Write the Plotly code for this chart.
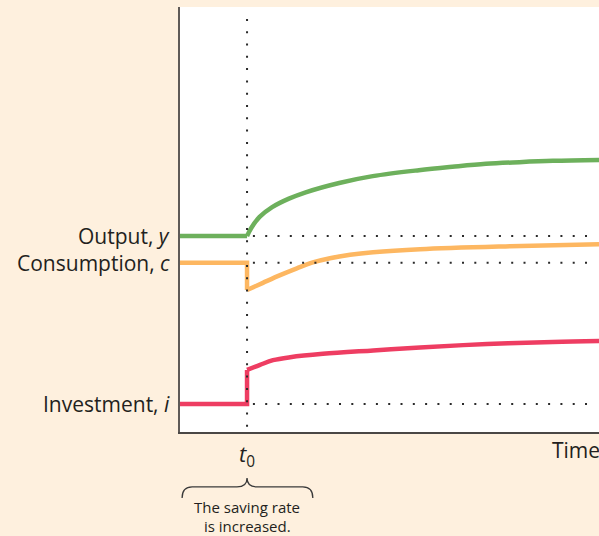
import plotly.graph_objects as go

# ---- data (time units 0..100, level units 0..100) ----
t0 = 16
output_t = [0, 16, 17, 19, 22, 26, 30, 38, 46, 57, 65, 73, 81, 89, 100]
output_v = [46.1, 46.1, 48.0, 50.6, 52.9, 54.9, 56.4, 58.6, 60.2, 61.6, 62.4, 63.1, 63.5, 63.8, 64.0]

cons_t = [0, 16, 16, 19.8, 23.9, 27.9, 31.7, 35.8, 40.6, 46.1, 57.3, 78.8, 100]
cons_v = [39.8, 39.8, 33.4, 35.1, 36.9, 38.5, 39.9, 40.9, 41.7, 42.3, 43.0, 43.7, 44.2]

inv_t = [0, 16, 16, 19.1, 22.2, 26.3, 34.1, 46.1, 57.3, 73.3, 89.0, 100]
inv_v = [6.6, 6.6, 14.6, 15.8, 16.9, 17.6, 18.4, 19.2, 19.9, 20.7, 21.2, 21.4]

series_names = ["Output, <i>y</i>", "Consumption, <i>c</i>", "Investment, <i>i</i>"]
baselines = [46.1, 39.8, 6.6]
colors = ["#6DB05C", "#FDB761", "#EE3D62"]
# index where the post-t0 smooth path begins in each series
split_idx = [1, 2, 2]

caption_lines = ["The saving rate", "is increased."]

dot_start, dot_end = 17.4, 98.0
vline_top = 97.2

FONT = "Open Sans"
TXT = "#231F20"

fig = go.Figure()
for tt, vv, c, k in zip([output_t, cons_t, inv_t], [output_v, cons_v, inv_v], colors, split_idx):
    fig.add_trace(go.Scatter(x=tt[:k + 1], y=vv[:k + 1], mode="lines",
                             line=dict(color=c, width=4.5), hoverinfo="skip"))
    fig.add_trace(go.Scatter(x=tt[k:], y=vv[k:], mode="lines",
                             line=dict(color=c, width=4.5, shape="spline", smoothing=1.0),
                             hoverinfo="skip"))

shapes = []
for b in baselines:
    shapes.append(dict(type="line", xref="x", yref="y", x0=dot_start, x1=dot_end, y0=b, y1=b,
                       line=dict(color="#2a2a2a", width=2, dash="2px,10.3px"), layer="above"))
shapes.append(dict(type="line", xref="x", yref="y", x0=t0, x1=t0, y0=vline_top, y1=0,
                   line=dict(color="#2a2a2a", width=2, dash="2px,10.3px"), layer="above"))

# brace under t0
bx0, bx1, r = 0.5, 31.7, 2.4
yend, ymid, ytip = -0.155, -0.129, -0.108
path = (f"M {bx0},{yend} Q {bx0},{ymid} {bx0+r},{ymid} L {t0-r},{ymid} "
        f"Q {t0},{ymid} {t0},{ytip} Q {t0},{ymid} {t0+r},{ymid} "
        f"L {bx1-r},{ymid} Q {bx1},{ymid} {bx1},{yend}")
shapes.append(dict(type="path", xref="x", yref="paper", path=path,
                   line=dict(color="#3a3a3a", width=1.3)))

annotations = []
for name, b in zip(series_names, baselines):
    annotations.append(dict(x=0, y=b, xref="x", yref="y", text=name, showarrow=False,
                            xanchor="right", yanchor="middle", xshift=-8,
                            font=dict(family=FONT, size=21, color=TXT)))
annotations.append(dict(x=t0, y=0, xref="x", yref="y", text="<i>t</i><sub>0</sub>",
                        showarrow=False, xanchor="center", yanchor="top", yshift=-4,
                        font=dict(family=FONT, size=22, color=TXT)))
annotations.append(dict(x=1, y=0, xref="paper", yref="y", text="Time",
                        showarrow=False, xanchor="right", yanchor="top", yshift=-2, xshift=3,
                        font=dict(family=FONT, size=21, color=TXT)))
for line_txt, yp in zip(caption_lines, [-0.1753, -0.2215]):
    annotations.append(dict(x=t0, y=yp, xref="x", yref="paper", text=line_txt,
                            showarrow=False, xanchor="center", yanchor="middle", borderpad=0,
                            font=dict(family=FONT, size=15, color=TXT)))

fig.update_layout(
    width=599, height=536,
    margin=dict(l=180, r=0, t=7, b=104),
    paper_bgcolor="#FEF0DE", plot_bgcolor="#FFFFFF",
    showlegend=False, hovermode=False,
    shapes=shapes, annotations=annotations,
    xaxis=dict(range=[0, 100], showgrid=False, zeroline=False, showticklabels=False,
               ticks="", showline=True, linecolor="#4a4745", linewidth=2),
    yaxis=dict(range=[0, 100], showgrid=False, zeroline=False, showticklabels=False,
               ticks="", showline=True, linecolor="#5f5a57", linewidth=2),
)

fig.write_html("out.html", config={"displayModeBar": False},
               post_script="document.body.style.margin='0';document.body.style.padding='0';"
                           "document.body.style.overflow='hidden';")
